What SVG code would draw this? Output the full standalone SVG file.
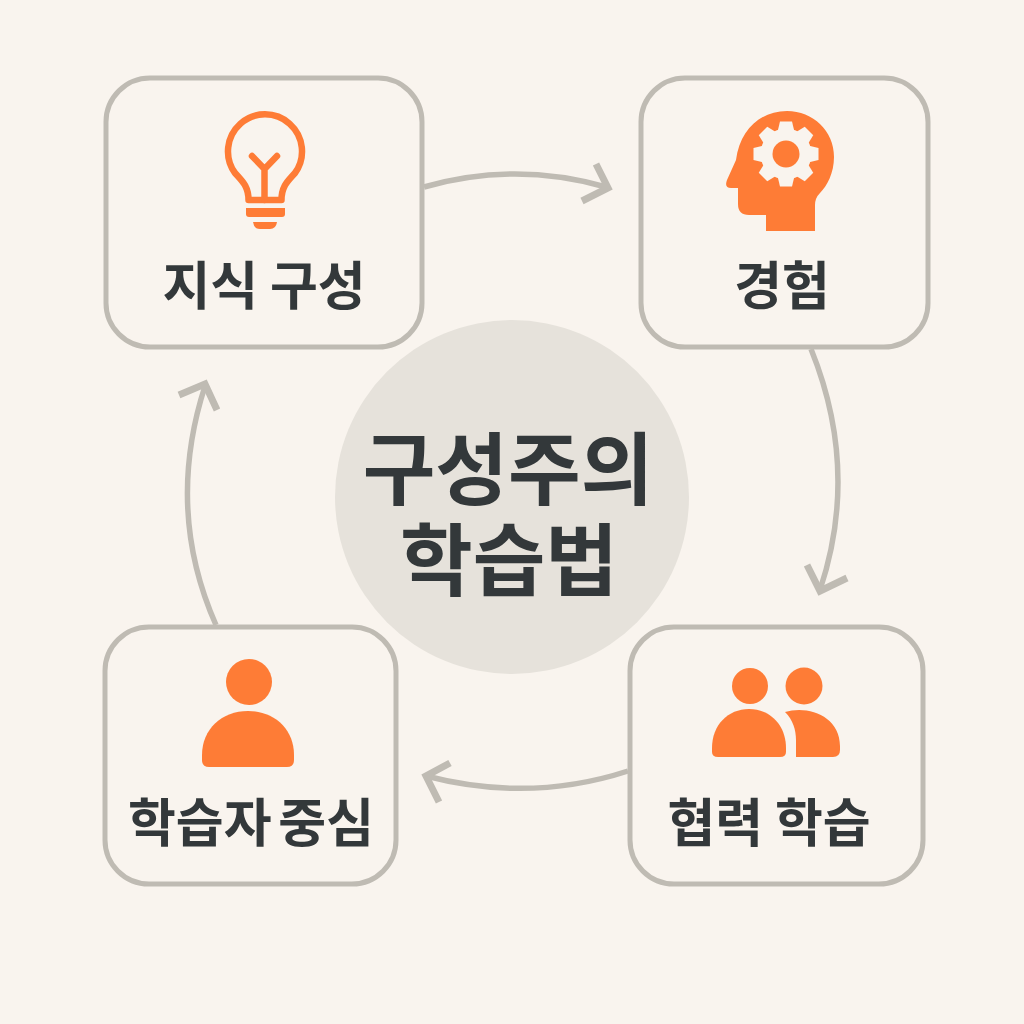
<svg xmlns="http://www.w3.org/2000/svg" width="1024" height="1024" viewBox="0 0 1024 1024">
<defs>
<style>
.box{fill:#f9f4ee;stroke:#bfbbb3;stroke-width:5}
.ic{fill:#fe7c36}
.lbl{font-family:"Noto Sans CJK KR","Noto Sans",sans-serif;font-weight:700;font-size:52px;fill:#33383a;text-anchor:middle}
.ttl{font-family:"Noto Sans CJK KR","Noto Sans",sans-serif;font-weight:700;font-size:79px;fill:#33383a;text-anchor:middle}
.con{fill:none;stroke:#bfbbb3;stroke-width:5.500}
.hd{fill:none;stroke:#bfbbb3;stroke-width:7;stroke-linejoin:miter}
</style>
</defs>
<rect width="1024" height="1024" fill="#f9f4ee"/>
<g id="connectors">
<path class="con" d="M424 187Q515 161 606 187"/><path class="hd" d="M596 164L608 188L582 201"/>
<path class="con" d="M811 349Q860 470 820 590"/><path class="hd" d="M807 565L820 591L847 578"/>
<path class="con" d="M628 771Q530 803 426 776"/><path class="hd" d="M450 763L426 776L439 802"/>
<path class="con" d="M216 625Q165 510 205 386"/><path class="hd" d="M179 395L205 384L217 410"/>
</g>
<g id="center"><circle cx="512" cy="497" r="177" fill="#e6e2db"/>
<text class="ttl" x="508" y="499">구성주의</text><text class="ttl" x="509" y="590">학습법</text></g>
<g id="node-knowledge"><rect class="box" x="106" y="78" width="316" height="269" rx="44"/>
<path d="M248.500 200C248.500 186 242 181 235 173A37 37 0 1 1 295 173C288 181 281.500 186 281.500 200H248.500Z" fill="none" stroke="#fe7c36" stroke-width="6.500" stroke-linejoin="round"/>
<path d="M252 156L264.500 169L277 156M264.500 169V200" fill="none" stroke="#fe7c36" stroke-width="6.500" stroke-linecap="round" stroke-linejoin="round"/>
<path class="ic" d="M246 208H285V214Q285 217 282 217H249Q246 217 246 214Z"/>
<path class="ic" d="M253 222H277Q276 229 270 229H260Q254 229 253 222Z"/>
<text class="lbl" x="264" y="304.500">지식 구성</text></g>
<g id="node-experience"><rect class="box" x="641" y="78" width="287" height="269" rx="44"/>
<path class="ic" d="M766 231V215H749Q738 215 738 204V188H731Q724 188 727 180L736 160C740 130 760 111 787 111C813 111 834 131 834 157C834 173 827 186 820 193Q815 198 815 205V231Z"/>
<g fill="#f9f4ee"><circle cx="786" cy="154" r="25.500"/>
<path id="t" d="M780 121.500H792L795 134H777Z"/><use href="#t" transform="rotate(45 786 154)"/><use href="#t" transform="rotate(90 786 154)"/><use href="#t" transform="rotate(135 786 154)"/><use href="#t" transform="rotate(180 786 154)"/><use href="#t" transform="rotate(225 786 154)"/><use href="#t" transform="rotate(270 786 154)"/><use href="#t" transform="rotate(315 786 154)"/></g>
<circle class="ic" cx="786" cy="154" r="13.500"/>
<text class="lbl" x="782" y="304.500">경험</text></g>
<g id="node-collab"><rect class="box" x="630" y="627" width="293" height="257" rx="44"/>
<circle class="ic" cx="750" cy="686" r="18"/><circle class="ic" cx="804" cy="686" r="18.500"/>
<path class="ic" d="M712 748C712 725 728 709 749 709C770 709 786 725 786 748V752Q786 757 780 757H718Q712 757 712 752Z"/>
<path class="ic" d="M785 712C808 705 840 716 840 746V750Q840 757 833 757H796V740C796 730 793 720 785 712Z"/>
<text class="lbl" x="769" y="841.500">협력 학습</text></g>
<g id="node-learner"><rect class="box" x="105" y="627" width="291" height="257" rx="44"/>
<circle class="ic" cx="249" cy="682" r="23"/>
<path class="ic" d="M202 760V755C202 729 222 711 248 711C274 711 294 729 294 755V760Q294 767 287 767H209Q202 767 202 760Z"/>
<text class="lbl" x="251" y="841.500" style="word-spacing:-5px">학습자 중심</text></g>
</svg>
